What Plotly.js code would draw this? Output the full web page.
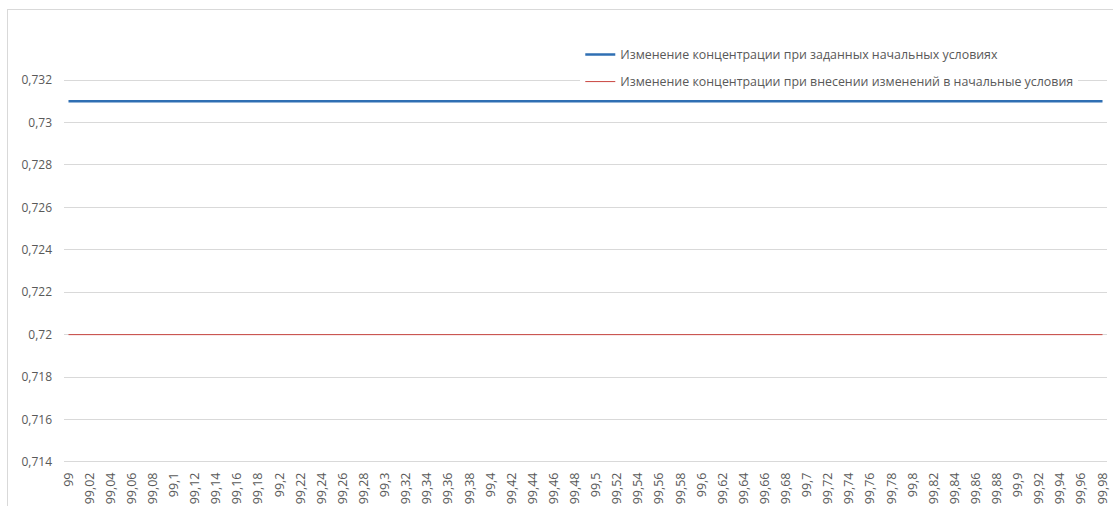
<!DOCTYPE html>
<html>
<head>
<meta charset="utf-8">
<script src="https://cdn.plot.ly/plotly-3.0.1.min.js"></script>
<style>
html,body{margin:0;padding:0;background:#fff;}
#wrap{position:relative;width:1113px;height:506px;overflow:hidden;}
#chart{width:1113px;height:506px;}
#frame{position:absolute;left:7px;top:9px;width:1200px;height:600px;border:1px solid #d9d9d9;pointer-events:none;}
</style>
</head>
<body>
<div id="wrap"><div id="chart"></div><div id="frame"></div></div>
<script>
var categories = ["99","99,02","99,04","99,06","99,08","99,1","99,12","99,14","99,16","99,18",
"99,2","99,22","99,24","99,26","99,28","99,3","99,32","99,34","99,36","99,38",
"99,4","99,42","99,44","99,46","99,48","99,5","99,52","99,54","99,56","99,58",
"99,6","99,62","99,64","99,66","99,68","99,7","99,72","99,74","99,76","99,78",
"99,8","99,82","99,84","99,86","99,88","99,9","99,92","99,94","99,96","99,98"];
var seriesInitial = [0.731,0.731,0.731,0.731,0.731,0.731,0.731,0.731,0.731,0.731,
0.731,0.731,0.731,0.731,0.731,0.731,0.731,0.731,0.731,0.731,
0.731,0.731,0.731,0.731,0.731,0.731,0.731,0.731,0.731,0.731,
0.731,0.731,0.731,0.731,0.731,0.731,0.731,0.731,0.731,0.731,
0.731,0.731,0.731,0.731,0.731,0.731,0.731,0.731,0.731,0.731];
var seriesChanged = [0.72,0.72,0.72,0.72,0.72,0.72,0.72,0.72,0.72,0.72,
0.72,0.72,0.72,0.72,0.72,0.72,0.72,0.72,0.72,0.72,
0.72,0.72,0.72,0.72,0.72,0.72,0.72,0.72,0.72,0.72,
0.72,0.72,0.72,0.72,0.72,0.72,0.72,0.72,0.72,0.72,
0.72,0.72,0.72,0.72,0.72,0.72,0.72,0.72,0.72,0.72];
var seriesNames = ["Изменение концентрации при заданных начальных условиях",
"Изменение концентрации при внесении изменений в начальные условия"];
var yTicks = [0.714,0.716,0.718,0.72,0.722,0.724,0.726,0.728,0.73,0.732];

var traces = [
  {x: categories, y: seriesInitial, name: seriesNames[0], type: 'scatter', mode: 'lines',
   line: {color: '#2f6fb3', width: 2.5}, legendgroup: 'a'},
  {x: categories, y: seriesChanged, name: seriesNames[1], type: 'scatter', mode: 'lines',
   line: {color: '#c9453f', width: 1}, legendgroup: 'b'}
];
var layout = {
  width: 1113, height: 506,
  margin: {l: 64, r: 6, t: 78, b: 42, pad: 0},
  paper_bgcolor: '#ffffff', plot_bgcolor: '#ffffff',
  separators: ', ',
  font: {family: 'Open Sans, sans-serif', size: 12, color: '#595959'},
  showlegend: true,
  legend: {x: 0.495, y: 1.0987, xanchor: 'left', yanchor: 'top', bgcolor: 'rgba(255,255,255,1)',
           font: {family: 'Open Sans, sans-serif', size: 12.4, color: '#595959'},
           traceorder: 'grouped', tracegroupgap: 8, borderwidth: 0},
  xaxis: {type: 'category', range: [-0.213, 49.213], tickangle: -90, showgrid: false,
          showline: false, zeroline: false, ticks: '', automargin: false,
          ticklabelstandoff: 5, tickfont: {size: 12.5, color: '#595959'}},
  yaxis: {range: [0.7139, 0.7321], tickvals: yTicks, showgrid: true, gridcolor: '#d9d9d9',
          gridwidth: 1, zeroline: false, showline: false, ticks: '', automargin: false,
          ticklabelstandoff: 11, tickfont: {size: 12, color: '#595959'}}
};
Plotly.newPlot('chart', traces, layout, {displayModeBar: false, staticPlot: true});
</script>
</body>
</html>
